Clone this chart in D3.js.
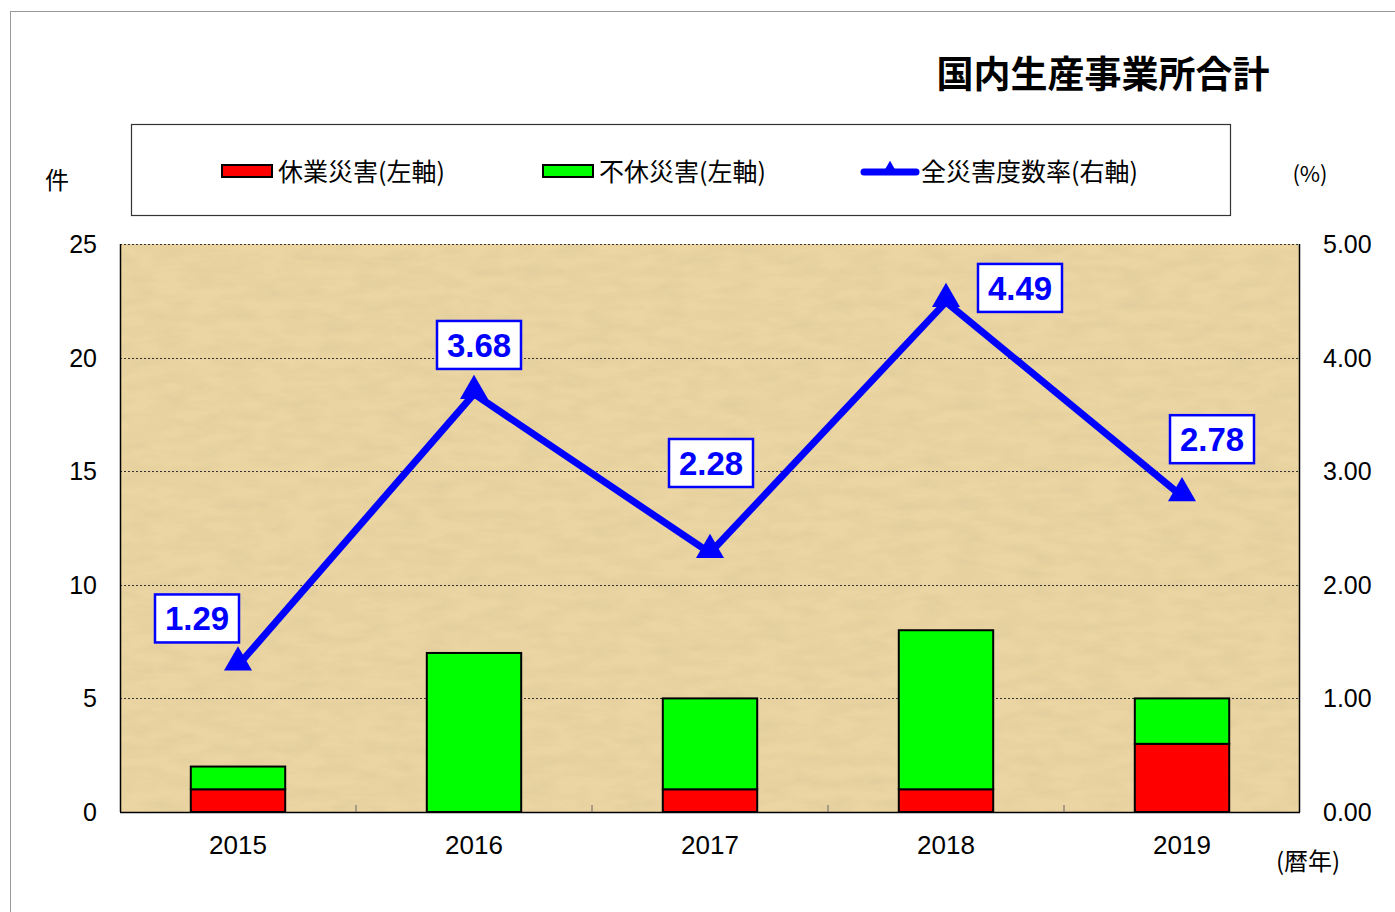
<!DOCTYPE html>
<html>
<head>
<meta charset="utf-8">
<script src="https://cdn.jsdelivr.net/npm/d3@7"></script>
<style>
  body { margin: 0; background: #fff; }
  text { font-family: "Noto Sans CJK JP", "Noto Sans", sans-serif; }
  .num { font-family: "Liberation Sans", Arial, sans-serif; }
</style>
</head>
<body>
<svg id="chart"></svg>
<script>
// data
const years = ['2015', '2016', '2017', '2018', '2019'];
const lostTime = [1, 0, 1, 1, 3];       // 休業災害
const noLostTime = [1, 7, 4, 7, 2];     // 不休災害
const rate = [1.29, 3.68, 2.28, 4.49, 2.78]; // 全災害度数率
const leftTicks = [0, 5, 10, 15, 20, 25];
const rightTicks = [0, 1, 2, 3, 4, 5];
// label box offsets from each point (dx, dy)
const labelOffsets = [[-41, -47], [5, -49], [1, -90], [74, -14], [30, -57]];

const W = 1395, H = 912;
const margin = { top: 244, right: 95, bottom: 100, left: 120 };
const width = W - margin.left - margin.right;   // 1180
const height = H - margin.top - margin.bottom;  // 568

const svg = d3.select('#chart').attr('width', W).attr('height', H);

// parchment texture
const defs = svg.append('defs');
const f = defs.append('filter').attr('id', 'paper').attr('x', 0).attr('y', 0).attr('width', '100%').attr('height', '100%');
f.append('feTurbulence').attr('type', 'fractalNoise').attr('baseFrequency', '0.03 0.09').attr('numOctaves', 4).attr('seed', 7).attr('result', 'noise');
f.append('feColorMatrix').attr('in', 'noise').attr('type', 'matrix')
  .attr('values', '0 0 0 0 0.62  0 0 0 0 0.52  0 0 0 0 0.30  0 0 0 0.6 -0.2').attr('result', 'tint');
f.append('feComposite').attr('in', 'tint').attr('in2', 'SourceGraphic').attr('operator', 'over');

// outer frame
svg.append('line').attr('x1', 10).attr('x2', W).attr('y1', 11.5).attr('y2', 11.5).attr('stroke', '#999').attr('stroke-width', 1);
svg.append('line').attr('x1', 10.5).attr('x2', 10.5).attr('y1', 11).attr('y2', H).attr('stroke', '#999').attr('stroke-width', 1);

// title
svg.append('text')
  .attr('x', 1103).attr('y', 88)
  .attr('text-anchor', 'middle')
  .attr('font-size', 37).attr('font-weight', 'bold')
  .text('国内生産事業所合計');

// legend
const legend = svg.append('g');
legend.append('rect').attr('x', 131.5).attr('y', 124.5).attr('width', 1099).attr('height', 91)
  .attr('fill', '#fff').attr('stroke', '#333').attr('stroke-width', 1.2);
legend.append('rect').attr('x', 222).attr('y', 165).attr('width', 50).attr('height', 12)
  .attr('fill', '#ff0000').attr('stroke', '#000').attr('stroke-width', 2);
legend.append('text').attr('x', 278).attr('y', 181).attr('font-size', 25).text('休業災害(左軸)');
legend.append('rect').attr('x', 543).attr('y', 165).attr('width', 50).attr('height', 12)
  .attr('fill', '#00ff00').attr('stroke', '#000').attr('stroke-width', 2);
legend.append('text').attr('x', 599).attr('y', 181).attr('font-size', 25).text('不休災害(左軸)');
legend.append('line').attr('x1', 864).attr('x2', 916).attr('y1', 172).attr('y2', 172)
  .attr('stroke', '#0000ff').attr('stroke-width', 7).attr('stroke-linecap', 'round');
legend.append('path').attr('d', d3.symbol(d3.symbolTriangle, 110)()).attr('transform', 'translate(890,170)').attr('fill', '#0000ff');
legend.append('text').attr('x', 921).attr('y', 181).attr('font-size', 25).text('全災害度数率(右軸)');

// axis unit labels
svg.append('text').attr('x', 57).attr('y', 189).attr('text-anchor', 'middle').attr('font-size', 24).text('件');
svg.append('text').attr('x', 1310).attr('y', 182).attr('text-anchor', 'middle').attr('font-size', 22).text('(%)');
svg.append('text').attr('x', 1308).attr('y', 870).attr('text-anchor', 'middle').attr('font-size', 24).text('(暦年)');

const chart = svg.append('g').attr('transform', `translate(${margin.left},${margin.top})`);

// scales
const x = d3.scaleBand().domain(years).range([0, width]).paddingInner(0).paddingOuter(0);
const yL = d3.scaleLinear().domain([0, 25]).range([height, 0]);
const yR = d3.scaleLinear().domain([0, 5]).range([height, 0]);

// plot background
chart.append('rect').attr('width', width).attr('height', height).attr('fill', '#ebd5a2').attr('filter', 'url(#paper)');

// gridlines
chart.selectAll('.grid').data(leftTicks.slice(1)).join('line')
  .attr('class', 'grid')
  .attr('x1', 0).attr('x2', width)
  .attr('y1', d => Math.round(yL(d)) + 0.5).attr('y2', d => Math.round(yL(d)) + 0.5)
  .attr('stroke', '#333').attr('stroke-width', 1).attr('stroke-dasharray', '2,2');

// frame of plot
chart.append('line').attr('x1', 0.5).attr('x2', 0.5).attr('y1', 0).attr('y2', height).attr('stroke', '#000').attr('stroke-width', 1.5);
chart.append('line').attr('x1', width - 0.5).attr('x2', width - 0.5).attr('y1', 0).attr('y2', height).attr('stroke', '#000').attr('stroke-width', 1.5);
chart.append('line').attr('x1', 0).attr('x2', width).attr('y1', height + 0.5).attr('y2', height + 0.5).attr('stroke', '#000').attr('stroke-width', 1.5);

// category boundary ticks
chart.selectAll('.xtick').data(years.slice(1)).join('line')
  .attr('class', 'xtick')
  .attr('x1', d => x(d)).attr('x2', d => x(d))
  .attr('y1', height).attr('y2', height - 7)
  .attr('stroke', '#666').attr('stroke-width', 1);

// stacked bars
const stackData = years.map((y, i) => ({ year: y, red: lostTime[i], green: noLostTime[i] }));
const series = d3.stack().keys(['red', 'green'])(stackData);
const colors = { red: '#ff0000', green: '#00ff00' };
const barW = x.bandwidth() * 0.4;
series.forEach(s => {
  chart.selectAll('.bar-' + s.key).data(s.filter(d => d[1] > d[0])).join('rect')
    .attr('class', 'bar-' + s.key)
    .attr('x', d => x(d.data.year) + (x.bandwidth() - barW) / 2)
    .attr('width', barW)
    .attr('y', d => yL(d[1]))
    .attr('height', d => yL(d[0]) - yL(d[1]))
    .attr('fill', colors[s.key])
    .attr('stroke', '#000').attr('stroke-width', 2);
});

// line
const pts = years.map((y, i) => [x(y) + x.bandwidth() / 2, yR(rate[i])]);
chart.append('path')
  .attr('d', d3.line()(pts))
  .attr('fill', 'none').attr('stroke', '#0000ff').attr('stroke-width', 7).attr('stroke-linejoin', 'miter');
chart.selectAll('.marker').data(pts).join('path')
  .attr('class', 'marker')
  .attr('d', d3.symbol(d3.symbolTriangle, 340)())
  .attr('transform', d => `translate(${d[0]},${d[1] - 3})`)
  .attr('fill', '#0000ff');

// value labels
const lab = chart.selectAll('.lab').data(pts).join('g')
  .attr('class', 'lab')
  .attr('transform', (d, i) => `translate(${d[0] + labelOffsets[i][0]},${d[1] + labelOffsets[i][1]})`);
lab.append('rect').attr('x', -42).attr('y', -24).attr('width', 84).attr('height', 48)
  .attr('fill', '#fff').attr('stroke', '#0000ff').attr('stroke-width', 2.5);
lab.append('text').attr('class', 'num')
  .attr('text-anchor', 'middle').attr('y', 12)
  .attr('font-size', 33).attr('font-weight', 'bold').attr('fill', '#0000ff')
  .text((d, i) => rate[i].toFixed(2));

// axes labels
svg.append('g').selectAll('text').data(leftTicks).join('text')
  .attr('class', 'num')
  .attr('x', 97).attr('y', d => margin.top + yL(d) + 9)
  .attr('text-anchor', 'end').attr('font-size', 25)
  .text(d => d);
svg.append('g').selectAll('text').data(rightTicks).join('text')
  .attr('class', 'num')
  .attr('x', 1323).attr('y', d => margin.top + yR(d) + 9)
  .attr('text-anchor', 'start').attr('font-size', 25)
  .text(d => d3.format('.2f')(d));
svg.append('g').selectAll('text').data(years).join('text')
  .attr('class', 'num')
  .attr('x', d => margin.left + x(d) + x.bandwidth() / 2).attr('y', 854)
  .attr('text-anchor', 'middle').attr('font-size', 26)
  .text(d => d);
</script>
</body>
</html>
